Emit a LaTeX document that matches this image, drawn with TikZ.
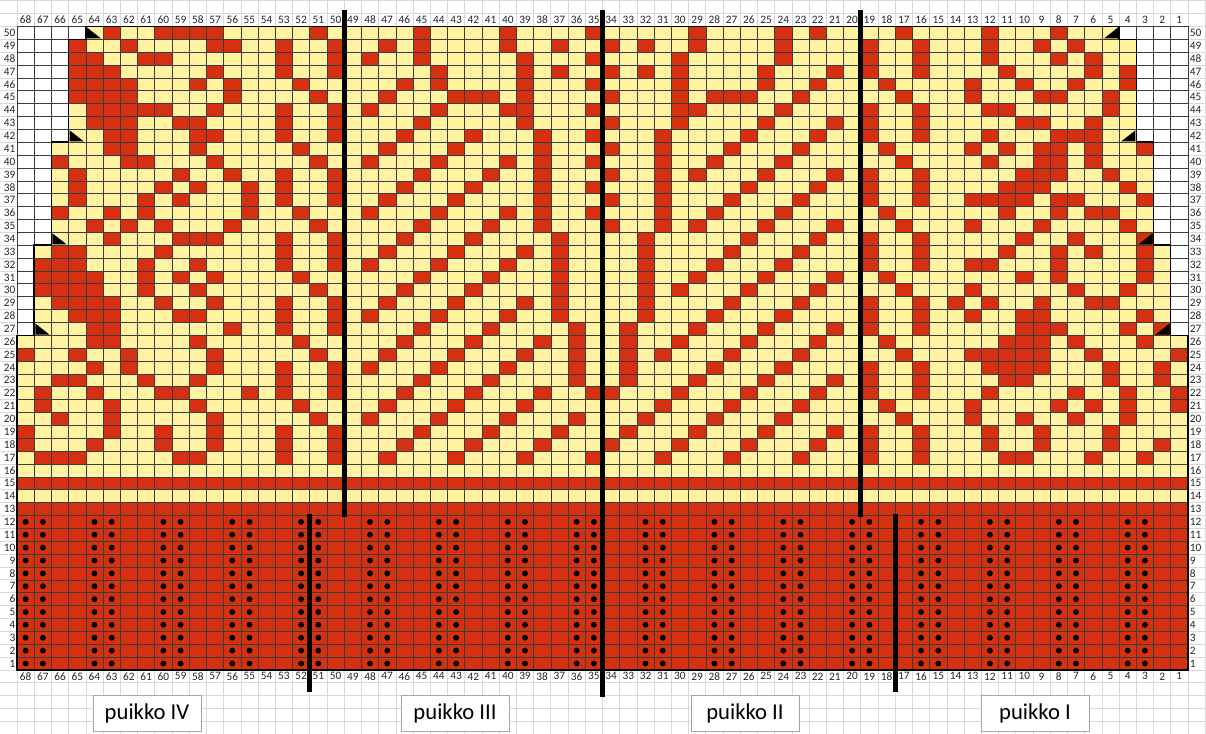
\documentclass[tikz,border=0pt]{standalone}
\usepackage{fontspec}
\setmainfont{Carlito}
\definecolor{kred}{HTML}{D5300F}
\definecolor{kyel}{HTML}{FFF3A0}
\definecolor{sgrid}{HTML}{D9D9D9}
\definecolor{cgrid}{HTML}{3C3C3C}
\definecolor{boxgray}{HTML}{A6A6A6}
\tikzset{
  lbl/.style={font=\fontsize{8.5}{9}\selectfont, text=black!85, inner sep=0pt},
  pbox/.style={draw=boxgray, fill=white, line width=0.6pt, minimum width=81pt, minimum height=27pt, font=\fontsize{17}{18}\selectfont, inner sep=0pt},
  thickbar/.style={line width=3.6pt, black},
  outline/.style={line width=1.1pt, black},
}
\def\reddata{%
50/{63,60,59,58,57,51,45,40,35,29,24,22,17,12,8},
49/{65,62,57,56,53,50,47,45,40,37,34,32,29,24,19,16,12,9,7},
48/{65,64,61,60,53,50,48,45,39,35,30,24,19,16,12,8,6},
47/{65,64,63,57,53,50,44,39,37,34,32,30,25,21,19,16,11,6,4},
46/{65,64,63,62,58,56,52,46,44,39,35,30,25,22,18,13,10,7,4},
45/{65,64,63,62,56,51,47,43,42,41,39,34,30,28,27,26,23,17,13,9,8,5},
44/{64,63,62,61,60,57,53,50,48,44,40,39,35,30,29,24,19,16,12,11,5},
43/{64,63,62,59,58,53,50,45,39,34,30,25,21,19,16,10,9,6},
42/{63,62,58,57,53,50,46,42,38,35,31,26,22,19,16,12,8,7,6},
41/{63,62,58,52,47,43,38,34,31,27,23,18,13,11,9,8,6,3},
40/{66,62,61,57,51,48,44,40,38,35,31,28,24,17,12,9,8,6},
39/{65,59,56,53,50,45,41,38,34,31,29,25,21,19,16,10,9,8,5},
38/{65,60,58,55,53,50,46,42,38,35,31,26,22,19,16,11,10,9,4},
37/{65,61,59,55,53,50,47,43,38,34,31,27,23,19,16,13,12,11,10,8,7,3},
36/{66,63,61,55,52,48,44,40,38,35,31,28,24,18,11,8,6,5},
35/{64,62,60,56,51,45,41,38,34,31,29,25,21,17,13,9,4},
34/{63,59,58,57,53,50,46,42,37,32,26,22,19,16,10,7,3},
33/{66,65,60,53,50,47,43,39,37,32,27,23,19,16,11,8,6,3},
32/{67,66,65,61,58,53,50,48,44,40,37,32,28,24,19,16,13,12,8,3},
31/{67,66,65,64,61,59,57,52,45,41,37,32,29,25,21,18,10,8,3},
30/{67,66,65,64,61,58,51,46,42,37,32,30,26,22,17,13,7,4},
29/{66,65,64,63,60,57,53,50,47,43,39,37,32,27,23,19,16,14,12,9,6,5},
28/{65,64,63,59,58,53,50,48,44,40,37,32,28,24,19,16,13,10,9,3},
27/{64,63,56,53,50,45,41,36,33,29,25,21,19,16,10,9,8,4,2},
26/{64,63,58,52,46,42,38,36,33,30,26,22,18,11,10,9,7,3},
25/{68,65,62,57,51,47,43,39,36,33,31,27,23,17,13,12,11,10,9,6,1},
24/{64,62,57,53,50,48,44,40,36,33,28,24,19,16,12,11,10,9,5,2},
23/{66,65,61,58,53,50,45,41,36,33,29,25,21,19,16,11,10,5,2},
22/{67,64,60,59,55,53,50,46,42,38,35,34,30,26,22,19,16,12,7,4,1},
21/{67,63,58,52,47,43,39,31,27,23,18,13,8,6,4,1},
20/{66,63,57,51,48,44,40,36,32,28,24,17,13,10,7,4},
19/{68,63,60,57,53,50,45,41,37,33,29,25,21,19,16,12,9,5},
18/{68,64,60,57,53,50,46,42,38,34,30,26,22,19,16,12,9,5,2},
17/{67,66,65,59,58,53,50,47,43,39,35,31,27,23,19,16,11,10,6,3}}
\begin{document}
\begin{tikzpicture}[x=0.75pt,y=-0.75pt]
\useasboundingbox (0,0) rectangle (1206,734);
\fill[white] (0,0) rectangle (1206,734);
% spreadsheet background grid
\foreach \i in {-1,...,69} \draw[sgrid, line width=0.5pt] ({17+\i*17.22},0) -- ({17+\i*17.22},734);
\foreach \j in {-3,...,55} \draw[sgrid, line width=0.5pt] (0,{26.4+\j*12.87}) -- (1206,{26.4+\j*12.87});
\begin{scope}[shift={(17,26.4)}, x=12.915pt, y=-9.6525pt]
  % knitted shape (yellow)
  \fill[kyel] (0,50) -- (0,24) -- (1,24) -- (1,17) -- (2,17) -- (2,9) -- (3,9) -- (3,1) -- (4,1) -- (4,0)
     -- (64,0) -- (64,1) -- (65,1) -- (65,9) -- (66,9) -- (66,17) -- (67,17) -- (67,24) -- (68,24) -- (68,50) -- cycle;
  % ribbing and stripe
  \fill[kred] (0,37) rectangle (68,50);
  \fill[kred] (0,35) rectangle (68,36);
  % pattern cells
  \foreach \r/\cl in \reddata {
    \foreach \c in \cl { \fill[kred] ({68-\c},{50-\r}) rectangle ++(1,1); }
  }
  % chart grid
  \foreach \i in {0,...,68} \draw[cgrid, line width=0.45pt] (\i,0) -- (\i,50);
  \foreach \j in {0,...,50} \draw[cgrid, line width=0.45pt] (0,\j) -- (68,\j);
  % decrease triangles
  \foreach \x/\y in {4/0,3/8,2/16,1/23} \fill[black] ({\x+0.06},{\y+0.08}) -- ({\x+0.06},{\y+0.94}) -- ({\x+0.88},{\y+0.94}) -- cycle;
  \foreach \x/\y in {63/0,64/8,65/16,66/23} \fill[black] ({\x+0.94},{\y+0.08}) -- ({\x+0.94},{\y+0.94}) -- ({\x+0.12},{\y+0.94}) -- cycle;
  % purl dots in ribbing
  \foreach \k in {1,...,17} {
    \foreach \r in {1,...,12} {
      \fill[black] ({68-4*\k+0.5},{50-\r+0.5}) circle (2.2pt);
      \fill[black] ({68-4*\k+1+0.5},{50-\r+0.5}) circle (2.2pt);
    }
  }
  % outline
  \draw[outline] (0,50) -- (0,24) -- (1,24) -- (1,17) -- (2,17) -- (2,9) -- (3,9) -- (3,1) -- (4,1) -- (4,0)
     -- (64,0) -- (64,1) -- (65,1) -- (65,9) -- (66,9) -- (66,17) -- (67,17) -- (67,24) -- (68,24) -- (68,50) -- cycle;
  % needle division lines
  \coordinate (a1) at (19,-1.27); \coordinate (a2) at (19,38.1);
  \coordinate (b1) at (34,-1.27); \coordinate (b2) at (34,52.1);
  \coordinate (c1) at (49,-1.27); \coordinate (c2) at (49,38.1);
  \coordinate (d1) at (17,37.9); \coordinate (d2) at (17,51.7);
  \coordinate (e1) at (51,37.9); \coordinate (e2) at (51,51.7);
  \draw[thickbar] (a1) -- (a2);
  \draw[thickbar] (b1) -- (b2);
  \draw[thickbar] (c1) -- (c2);
  \draw[thickbar] (d1) -- (d2);
  \draw[thickbar] (e1) -- (e2);
  % labels
  \foreach \c in {1,...,68} {
    \node[lbl] (ct\c) at ({68-\c+0.5},-0.5) {\c};
    \node[lbl] (cb\c) at ({68-\c+0.5},50.5) {\c};
  }
  \foreach \r in {1,...,50} {
    \node[lbl, anchor=east] (rl\r) at (-0.08,{50-\r+0.5}) {\r};
    \node[lbl, anchor=west] (rr\r) at (68.09,{50-\r+0.5}) {\r};
  }
\end{scope}
\node[pbox] (p4) at (147,713) {puikko IV};
\node[pbox] (p3) at (455,713) {puikko III};
\node[pbox] (p2) at (745,713) {puikko II};
\node[pbox] (p1) at (1035,713) {puikko I};
\end{tikzpicture}
\end{document}
